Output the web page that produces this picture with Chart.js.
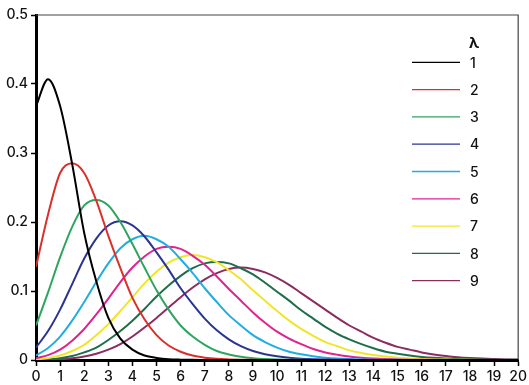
<!DOCTYPE html>
<html><head><meta charset="utf-8">
<script src="https://cdn.jsdelivr.net/npm/chart.js@4.4.1/dist/chart.umd.min.js"></script>
<style>html,body{margin:0;padding:0;background:#fff;} #wrap{width:529px;height:385px;}</style>
</head><body><div id="wrap"><canvas id="c" width="529" height="385"></canvas></div>
<script>
const xValues = [0,0.5,1,1.5,2,2.5,3,3.5,4,4.5,5,5.5,6,6.5,7,7.5,8,8.5,9,9.5,10,10.5,11,11.5,12,12.5,13,13.5,14,14.5,15,15.5,16,16.5,17,17.5,18,18.5,19,19.5,20];
const lambdaLabels = ['1','2','3','4','5','6','7','8','9'];
const xTickLabels = ['0','1','2','3','4','5','6','7','8','9','10','11','12','13','14','15','16','17','18','19','20'];
const yTickLabels = ['0','0.1','0.2','0.3','0.4','0.5'];

const lambda1 = [0.368,0.407,0.368,0.284,0.184,0.114,0.061,0.031,0.015,0.0065,0.003,0.0011,0.0005,0.0002,0.0001,0,0,0,0,0,0,0,0,0,0,0,0,0,0,0,0,0,0,0,0,0,0,0,0,0,0];
const lambda2 = [0.135,0.211,0.271,0.285,0.271,0.231,0.180,0.133,0.090,0.059,0.036,0.021,0.012,0.0064,0.0034,0.0017,0.0009,0.0004,0.0002,0.0001,0,0,0,0,0,0,0,0,0,0,0,0,0,0,0,0,0,0,0,0,0];
const lambda3 = [0.050,0.098,0.149,0.193,0.224,0.232,0.224,0.200,0.168,0.134,0.101,0.073,0.050,0.034,0.022,0.013,0.0081,0.0047,0.0027,0.0015,0.0008,0.0004,0.0002,0.0001,0,0,0,0,0,0,0,0,0,0,0,0,0,0,0,0,0];
const lambda4 = [0.018,0.042,0.073,0.110,0.147,0.176,0.195,0.201,0.195,0.179,0.156,0.131,0.104,0.081,0.060,0.043,0.030,0.020,0.013,0.0084,0.0053,0.0032,0.0019,0.0011,0.0006,0.0003,0.0002,0.0001,0,0,0,0,0,0,0,0,0,0,0,0,0];
const lambda5 = [0.0067,0.0175,0.034,0.057,0.084,0.113,0.140,0.162,0.175,0.180,0.175,0.164,0.146,0.126,0.104,0.084,0.065,0.050,0.036,0.026,0.018,0.012,0.0082,0.0053,0.0034,0.0021,0.0013,0.0008,0.0005,0.0003,0.0002,0.0001,0,0,0,0,0,0,0,0,0];
const lambda6 = [0.0025,0.007,0.015,0.028,0.045,0.066,0.089,0.113,0.134,0.150,0.161,0.164,0.161,0.151,0.138,0.121,0.103,0.086,0.069,0.054,0.041,0.031,0.023,0.016,0.011,0.0077,0.0052,0.0034,0.0022,0.0014,0.0009,0.0005,0.0003,0.0002,0.0001,0,0,0,0,0,0];
const lambda7 = [0.0009,0.0027,0.0064,0.013,0.022,0.036,0.052,0.071,0.091,0.111,0.128,0.141,0.149,0.152,0.149,0.142,0.130,0.117,0.101,0.086,0.071,0.057,0.045,0.035,0.026,0.020,0.014,0.010,0.0071,0.0049,0.0033,0.0022,0.0014,0.0009,0.0006,0.0004,0.0002,0.0001,0.0001,0,0];
const lambda8 = [0.0003,0.001,0.0027,0.0057,0.011,0.018,0.029,0.042,0.057,0.074,0.092,0.108,0.122,0.133,0.140,0.142,0.140,0.133,0.124,0.112,0.099,0.086,0.072,0.060,0.048,0.038,0.030,0.023,0.017,0.012,0.009,0.0064,0.0045,0.0031,0.0021,0.0014,0.0009,0.0006,0.0004,0.0003,0.0002];
const lambda9 = [0.0001,0.0004,0.0011,0.0025,0.005,0.0091,0.015,0.023,0.034,0.047,0.061,0.076,0.091,0.105,0.117,0.126,0.132,0.134,0.132,0.127,0.119,0.109,0.097,0.085,0.073,0.061,0.050,0.041,0.032,0.025,0.019,0.015,0.011,0.008,0.0058,0.0041,0.0029,0.002,0.0014,0.0009,0.0006];

const allSeries = [lambda1,lambda2,lambda3,lambda4,lambda5,lambda6,lambda7,lambda8,lambda9];
const colors = ['#000000','#d9302b','#2ea55f','#2b3590','#22ade2','#e0248e','#f0e52a','#1f6e4b','#8c2c60'];

const FONT = 'Inter, "Noto Sans", sans-serif';

const datasets = allSeries.map((arr, i) => ({
  label: lambdaLabels[i],
  data: xValues.map((x, j) => ({x: x, y: arr[j]})),
  borderColor: colors[i],
  backgroundColor: colors[i],
  borderWidth: 2,
  pointRadius: 0,
  fill: false,
  cubicInterpolationMode: 'monotone'
}));

const framePlugin = {
  id: 'frame',
  beforeDatasetsDraw(chart) {
    const {ctx, chartArea: a} = chart;
    ctx.save();
    ctx.strokeStyle = '#444';
    ctx.lineWidth = 1.2;
    ctx.beginPath();
    ctx.moveTo(a.left, a.top);
    ctx.lineTo(a.right, a.top);
    ctx.lineTo(a.right, a.bottom);
    ctx.stroke();
    ctx.restore();
  }
};

const legendPlugin = {
  id: 'lamLegend',
  afterDraw(chart) {
    const ctx = chart.ctx;
    ctx.save();
    ctx.textBaseline = 'middle';
    ctx.textAlign = 'left';
    ctx.fillStyle = '#111';
    ctx.font = 'bold 15px ' + FONT;
    ctx.fillText('λ', 469, 43);
    ctx.font = '500 14px ' + FONT;
    chart.data.datasets.forEach((ds, i) => {
      const y = 62.3 + i * 27.3;
      ctx.strokeStyle = ds.borderColor;
      ctx.lineWidth = 1.3;
      ctx.beginPath();
      ctx.moveTo(412, y);
      ctx.lineTo(460, y);
      ctx.stroke();
      ctx.fillText(ds.label, 470, y + 1);
    });
    ctx.restore();
  }
};

new Chart(document.getElementById('c'), {
  type: 'line',
  data: { datasets: datasets },
  plugins: [framePlugin, legendPlugin],
  options: {
    responsive: false,
    animation: false,
    layout: { padding: { top: 15, right: 10, left: 0, bottom: 0 } },
    plugins: { legend: { display: false }, tooltip: { enabled: false } },
    scales: {
      x: {
        type: 'linear', min: 0, max: 20,
        afterFit(s) { s.height = 25; },
        ticks: { stepSize: 1, autoSkip: false, maxRotation: 0, padding: 2, color: '#111',
          font: { family: FONT, size: 14, weight: '500' },
          callback: (v) => xTickLabels[Math.round(v)] },
        grid: { drawOnChartArea: false, drawTicks: true, tickLength: 6, tickColor: '#000', tickWidth: 1.5 },
        border: { display: true, color: '#000', width: 3 }
      },
      y: {
        min: 0, max: 0.5,
        afterFit(s) { s.width = 36; },
        ticks: { stepSize: 0.1, padding: 3, color: '#111',
          font: { family: FONT, size: 14, weight: '500' },
          callback: (v) => yTickLabels[Math.round(v * 10)] },
        grid: { drawOnChartArea: false, drawTicks: true, tickLength: 5, tickColor: '#000', tickWidth: 1.5 },
        border: { display: true, color: '#000', width: 3 }
      }
    }
  }
});
</script>
</body></html>
